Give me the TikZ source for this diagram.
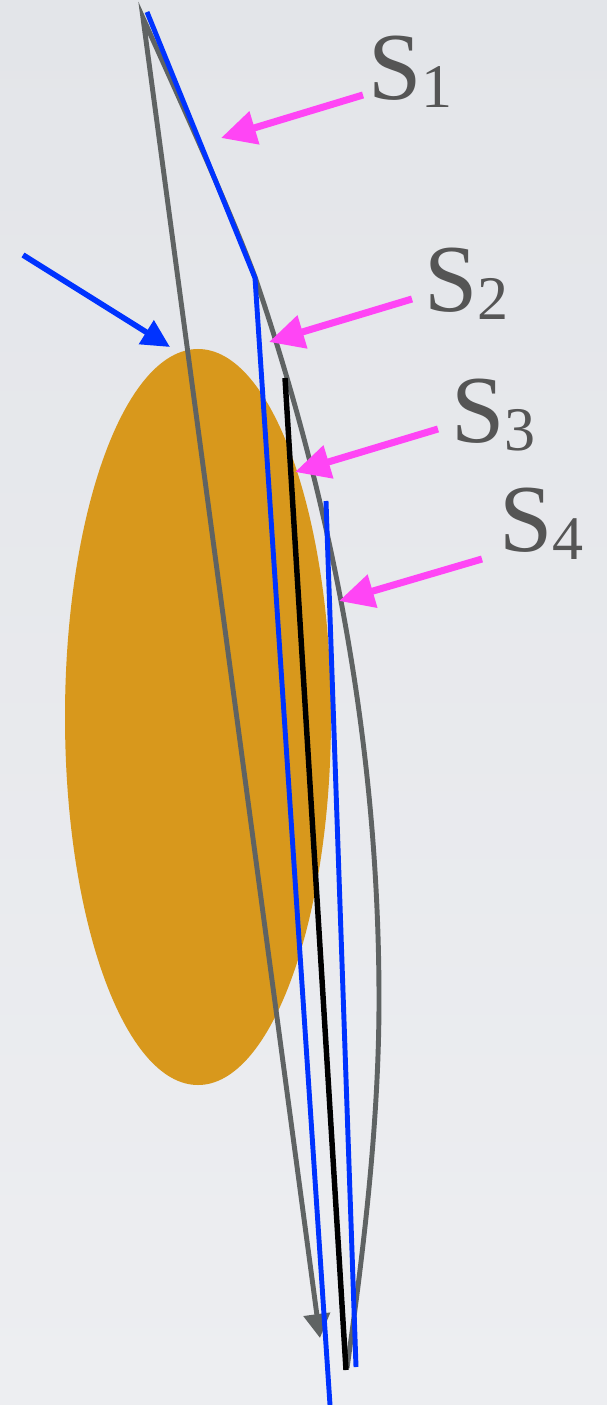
\documentclass[tikz,border=0pt]{standalone}
\usepackage{fontspec}
\setmainfont{Liberation Serif}
\usetikzlibrary{arrows.meta}
\definecolor{bgtop}{HTML}{E3E5E9}
\definecolor{bgbot}{HTML}{EDEEF1}
\definecolor{ochre}{HTML}{D8981C}
\definecolor{gline}{HTML}{5F6363}
\definecolor{bline}{HTML}{0033FF}
\definecolor{mag}{HTML}{FF45F5}
\definecolor{labgray}{HTML}{555555}
\tikzset{
  grayln/.style={draw=gline, line width=2.8pt, line join=miter},
  blueln/.style={draw=bline, line width=2.8pt, line join=miter},
  blackln/.style={draw=black, line width=3.1pt},
  magarrow/.style={draw=mag, line width=4pt, -{Triangle[length=0.7cm,width=0.66cm]}},
  bluearrow/.style={draw=bline, line width=3.2pt, -{Triangle[length=0.56cm,width=0.54cm]}},
  lab/.style={text=labgray, inner sep=0pt, anchor=base west, font=\fontsize{54.6pt}{56pt}\selectfont},
}
\newcommand{\subdig}[1]{\raisebox{-0.16cm}{\fontsize{35.3pt}{36pt}\selectfont #1}}
\begin{document}
\begin{tikzpicture}[x=0.02cm, y=-0.02cm]
  \useasboundingbox (0,0) rectangle (607,1405);
  \shade[top color=bgtop, bottom color=bgbot] (0,0) rectangle (607,1405);
  % body
  \fill[ochre] (198,717) ellipse [x radius=133, y radius=368];
  % named points
  \coordinate (gtop) at (143,18);
  \coordinate (gbend) at (255,277);
  \coordinate (gright) at (379,1000);
  \coordinate (gbot) at (347,1368);
  \coordinate (gtip) at (320,1338);
  \coordinate (b1a) at (147,12);
  \coordinate (b1b) at (255,278);
  \coordinate (b1c) at (330,1405);
  \coordinate (ka) at (285,378);
  \coordinate (kb) at (346,1370);
  \coordinate (b2a) at (326,501);
  \coordinate (b2b) at (356,1367);
  % gray loop with arrow
  \draw[grayln, -{Triangle[length=0.48cm,width=0.52cm]}]
    (gbot) .. controls (364,1248) and (379,1120) .. (gright)
           .. controls (379,759) and (337,518) .. (gbend)
           .. controls (230,210) and (180,100) .. (gtop)
           -- (gtip);
  % blue lines and black line
  \draw[blueln] (b1a) -- (b1b) -- (b1c);
  \draw[blackln] (ka) -- (kb);
  \draw[blueln] (b2a) -- (b2b);
  % blue incoming arrow
  \coordinate (ba) at (23,255);
  \coordinate (bt) at (170,347);
  \draw[bluearrow] (ba) -- (bt);
  % labels
  \node[lab] (s1) at (368,100) {S\subdig{1}};
  \node[lab] (s2) at (424,312) {S\subdig{2}};
  \node[lab] (s3) at (451,442) {S\subdig{3}};
  \node[lab] (s4) at (499,551) {S\subdig{4}};
  % magenta arrows
  \coordinate (m1a) at (363,95);  \coordinate (m1t) at (221,138);
  \coordinate (m2a) at (412,299); \coordinate (m2t) at (269,342);
  \coordinate (m3a) at (438,429); \coordinate (m3t) at (295,472);
  \coordinate (m4a) at (482,559); \coordinate (m4t) at (339,601);
  \draw[magarrow] (m1a) -- (m1t);
  \draw[magarrow] (m2a) -- (m2t);
  \draw[magarrow] (m3a) -- (m3t);
  \draw[magarrow] (m4a) -- (m4t);
\end{tikzpicture}
\end{document}
